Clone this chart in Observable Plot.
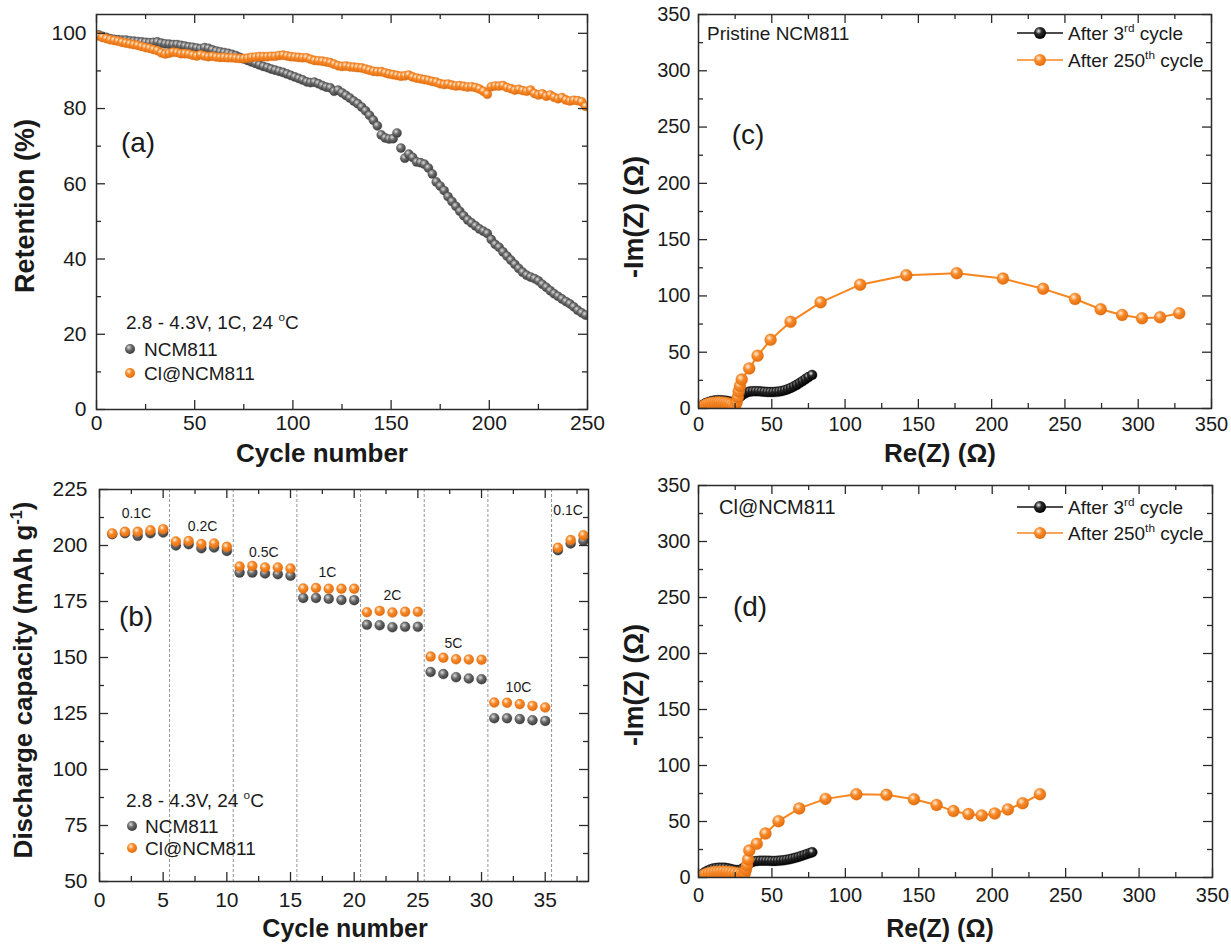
<!DOCTYPE html>
<html><head><meta charset="utf-8">
<script src="https://cdn.jsdelivr.net/npm/d3@7"></script>
<script src="https://cdn.jsdelivr.net/npm/@observablehq/plot@0.6"></script>
<style>
body{margin:0;background:#fff;}
#fig{position:relative;width:1231px;height:944px;overflow:hidden;font-family:'Liberation Sans',Arial,Helvetica,sans-serif;color:#1a1a1a;background:#fff;}
.p{position:absolute;}
.t{position:absolute;white-space:nowrap;line-height:1;transform:translateY(-50%);}
.c{position:absolute;white-space:nowrap;line-height:1;transform:translate(-50%,-50%);}
.b{font-weight:bold;}
.vt{transform:translate(-50%,-50%) rotate(-90deg);}
sup{font-size:0.62em;vertical-align:0.6em;line-height:0;}
</style></head>
<body>
<svg width="0" height="0" style="position:absolute">
<defs>
<radialGradient id="gGray" cx="0.38" cy="0.34" r="0.68">
<stop offset="0" stop-color="#dcdcdc"/><stop offset="0.45" stop-color="#6a6a6a"/><stop offset="1" stop-color="#3a3a3a"/>
</radialGradient>
<radialGradient id="gOr" cx="0.38" cy="0.34" r="0.68">
<stop offset="0" stop-color="#fff1df"/><stop offset="0.42" stop-color="#f98a28"/><stop offset="1" stop-color="#e06d10"/>
</radialGradient>
<radialGradient id="gBlk" cx="0.38" cy="0.34" r="0.68">
<stop offset="0" stop-color="#f2f2f2"/><stop offset="0.38" stop-color="#2a2a2a"/><stop offset="1" stop-color="#000"/>
</radialGradient>
</defs>
</svg>
<div id="fig"></div>
<script>
const FONT = "'Liberation Sans', Arial, Helvetica, sans-serif";
const AX = "#2b2b2b";
const ORANGE = "#f7861f";

// ---------- Panel (a): capacity retention ----------
const cyclesA = d3.range(1, 250, 2); // cycles 1,3,...,249
const retNCM = [
 99.6, 99.2, 98.9, 98.6, 98.4, 98.3, 98.2, 98.2, 98.0, 97.9,
 97.8, 97.7, 97.6, 97.5, 97.6, 97.7, 97.4, 97.2, 97.1, 97.0,
 97.0, 96.8, 96.6, 96.4, 96.3, 96.1, 95.9, 96.2, 96.0, 95.6,
 95.3, 95.1, 94.9, 94.7, 94.4, 94.1, 93.6, 93.2, 92.8, 92.4,
 92.0, 91.6, 91.2, 90.9, 90.5, 90.2, 89.9, 89.6, 89.2, 88.8,
 88.4, 88.0, 87.6, 87.1, 86.9, 87.0, 86.6, 86.1, 85.7, 85.5,
 84.6, 84.9, 84.2, 83.5, 82.8, 82.0, 81.3, 80.4, 79.4, 78.2,
 76.9, 75.4, 73.0, 72.2, 71.9, 72.0, 73.5, 69.5, 66.8, 67.9,
 67.0, 65.8, 65.6, 65.2, 64.2, 62.6, 60.5, 59.4, 58.2, 56.6,
 55.3, 54.0, 52.7, 51.5, 50.4, 49.6, 48.8, 48.0, 47.4, 46.8,
 45.2, 43.9, 43.1, 41.9, 40.8, 39.7, 38.6, 37.5, 36.5, 35.7,
 35.2, 34.8, 34.2, 33.3, 32.5, 31.6, 30.8, 30.1, 29.4, 28.7,
 28.1, 27.3, 26.4, 25.7, 25.1];
const retCl = [
 99.3, 98.9, 98.6, 98.3, 98.1, 97.9, 97.6, 97.4, 97.2, 97.0,
 96.8, 96.5, 96.2, 96.0, 95.7, 95.4, 94.8, 94.5, 94.7, 95.0,
 94.9, 94.6, 94.6, 94.5, 94.2, 94.0, 94.3, 94.0, 93.8, 93.9,
 93.7, 93.6, 93.6, 93.5, 93.5, 93.4, 93.3, 93.3, 93.4, 93.6,
 93.7, 93.8, 93.8, 93.8, 93.9, 93.9, 94.1, 94.2, 94.0, 93.8,
 93.7, 93.6, 93.5, 93.5, 93.1, 92.8, 92.7, 92.6, 92.4, 92.2,
 91.8, 91.4, 91.2, 91.3, 91.1, 91.0, 90.9, 90.8, 90.5, 90.2,
 89.9, 89.8, 89.8, 89.5, 89.2, 89.0, 88.8, 88.6, 88.7, 88.9,
 88.4, 88.1, 87.9, 87.7, 87.5, 87.2, 87.0, 86.6, 86.4, 86.5,
 86.2, 86.0, 86.1, 85.9, 85.7, 85.8, 85.6, 85.2, 84.6, 83.8,
 85.8, 86.0, 86.0, 86.1, 85.6, 85.3, 84.9, 85.1, 84.8, 84.6,
 84.9, 84.0, 83.6, 83.9, 83.3, 83.6, 83.0, 82.6, 82.9, 82.3,
 82.0, 82.2, 82.1, 81.8, 80.6];
const aXMajor = [0, 50, 100, 150, 200, 250];
const aXMinor = [25, 75, 125, 175, 225];
const aYMajor = [0, 20, 40, 60, 80, 100];
const aYMinor = [10, 30, 50, 70, 90];

// ---------- Panel (b): rate capability ----------
const cyclesB = d3.range(1, 39);
const capNCM = [205.0, 205.5, 204.3, 205.5, 205.8, 200.0, 200.6, 198.8, 199.1, 197.6,
 187.9, 187.9, 187.5, 187.2, 186.5, 176.6, 176.6, 176.2, 175.7, 175.6,
 164.6, 164.4, 163.5, 163.7, 163.7, 143.5, 142.6, 141.2, 140.6, 140.3,
 122.9, 122.9, 122.5, 122.0, 121.7, 197.9, 200.9, 202.1];
const capCl = [205.4, 206.1, 206.1, 206.8, 207.3, 201.8, 202.0, 200.7, 200.9, 199.4,
 190.6, 190.9, 190.2, 190.2, 189.7, 180.8, 181.0, 180.7, 180.7, 180.7,
 170.2, 170.8, 170.1, 170.4, 170.4, 150.4, 149.9, 149.2, 149.1, 149.0,
 129.9, 129.8, 129.2, 128.4, 127.7, 199.0, 202.4, 204.6];
const rateLabels = ["0.1C", "0.2C", "0.5C", "1C", "2C", "5C", "10C", "0.1C"];
const rateX = [2.9, 8.1, 12.9, 17.9, 23.0, 27.8, 32.9, 36.8];
const rateY = [214.5, 208.3, 197.0, 188.0, 177.5, 156.2, 136.6, 215.5];
const rateSteps = [5.5, 10.5, 15.5, 20.5, 25.5, 30.5, 35.5];
const bXMajor = [0, 5, 10, 15, 20, 25, 30, 35];
const bXMinor = [2.5, 7.5, 12.5, 17.5, 22.5, 27.5, 32.5, 37.5];
const bYMajor = [50, 75, 100, 125, 150, 175, 200, 225];
const bYMinor = [62.5, 87.5, 112.5, 137.5, 162.5, 187.5, 212.5];

// ---------- Panel (c): EIS pristine NCM811 ----------
const c3ReZ = [0.5,1.5,3,5,7,9,11,13,15,17,19,21,23,25,27,29,31,33,35,37,39,41,43,45,47,49,51,53,55,57,59,61,63,65,67,69,71,73,75,77.5];
const c3ImZ = [0,1.8,3.4,4.8,5.8,6.6,7.1,7.4,7.4,7.2,6.8,6.2,5.8,6.5,8.5,11,13,14.3,15,15.3,15.4,15.3,15.1,14.9,14.7,14.6,14.6,14.8,15.1,15.6,16.3,17.2,18.3,19.6,21,22.6,24.3,26.1,27.9,29.8];
const c250ReZ = [1,2.5,4,5.5,7,8.5,10,11.5,13,14.5,16,17.5,19,20.5,22,23.5,25,26,26.8,27.4,28.3,29.5,34.6,40.3,49.2,62.8,83.3,110.3,141.8,176.2,207.7,235.1,256.9,274.4,289.0,302.6,314.9,328.0];
const c250ImZ = [0,1.5,2.6,3.5,4.2,4.7,5.0,5.2,5.3,5.3,5.2,5.0,4.7,4.3,3.6,2.6,1.8,5.5,10,15,20,25.7,35.6,46.8,61.0,77.0,94.3,110.0,118.4,120.2,115.4,106.3,97.3,88.2,83.1,80.1,81.0,84.6];

// ---------- Panel (d): EIS Cl@NCM811 ----------
const d3ReZ = [0.5,2,4,6,8,10,12,14,16,18,20,22,24,26,28,30,32,34,36,38,40,42,44,46,48,50,52,54,56,58,60,62,64,66,68,70,72,74,76,77.5];
const d3ImZ = [0,2.5,4.5,6,7.2,8,8.5,8.8,8.8,8.6,8.2,7.6,7,6.6,6.8,8,10,12,13.5,14.4,14.8,15,15,15,14.9,14.8,14.8,14.9,15.1,15.4,15.8,16.3,16.9,17.6,18.4,19.2,20.1,21,21.9,22.6];
const d250ReZ = [1,3,5,7,9,11,13,15,17,19,21,23,25,27,29,30.5,31.5,32.3,33,33.8,34.6,39.7,45.6,54.5,68.6,86.5,107.5,128,146.7,162.1,173.6,183.8,192.8,201.7,210.7,220.7,232.5];
const d250ImZ = [0,1.8,3,3.8,4.4,4.8,5,5.1,5.1,5,4.8,4.5,4.1,3.6,3,2.6,3.5,7,11,16,24.1,30.1,39.2,50.3,61.7,70.2,74.4,73.8,69.9,64.8,59.3,56.6,55.4,57.2,60.8,66.3,74.4];
const eisMajor = [0, 50, 100, 150, 200, 250, 300, 350];
const eisMinor = [25, 75, 125, 175, 225, 275, 325];

// ---------- tables ----------
const tabA = cyclesA.map((c, i) => ({cycle: c, ncm: retNCM[i], cl: retCl[i]}));
const tabB = cyclesB.map((c, i) => ({cycle: c, ncm: capNCM[i], cl: capCl[i]}));
const tabRates = rateLabels.map((l, i) => ({label: l, x: rateX[i], y: rateY[i]}));
const toXY = (xs, ys) => xs.map((x, i) => ({x, y: ys[i]}));
const tabC3 = toXY(c3ReZ, c3ImZ), tabC250 = toXY(c250ReZ, c250ImZ);
const tabD3 = toXY(d3ReZ, d3ImZ), tabD250 = toXY(d250ReZ, d250ImZ);

function panel(o) {
  const iw = o.w - o.ml - o.mr, ih = o.h - o.mt - o.mb;
  const st = {stroke: AX, strokeWidth: 1.3};
  return Plot.plot({
    width: o.w, height: o.h,
    marginTop: o.mt, marginRight: o.mr, marginBottom: o.mb, marginLeft: o.ml,
    style: {fontFamily: FONT, fontSize: o.fs + "px", color: "#1a1a1a", background: "transparent", overflow: "visible"},
    x: {domain: o.xd, axis: null},
    y: {domain: o.yd, axis: null},
    marks: [
      ...o.marks,
      Plot.tickX(o.xMaj, {x: d => d, insetTop: ih - 9, ...st}),
      Plot.tickX(o.xMaj, {x: d => d, insetBottom: ih - 9, ...st}),
      Plot.tickX(o.xMin, {x: d => d, insetTop: ih - 5, ...st}),
      Plot.tickX(o.xMin, {x: d => d, insetBottom: ih - 5, ...st}),
      Plot.tickY(o.yMaj, {y: d => d, insetRight: iw - 9, ...st}),
      Plot.tickY(o.yMaj, {y: d => d, insetLeft: iw - 9, ...st}),
      Plot.tickY(o.yMin, {y: d => d, insetRight: iw - 5, ...st}),
      Plot.tickY(o.yMin, {y: d => d, insetLeft: iw - 5, ...st}),
      Plot.frame({stroke: AX, strokeWidth: 1.5}),
      Plot.axisX({ticks: o.xMaj, tickSize: 0, tickPadding: o.xPad, label: null, tickFormat: d => String(d)}),
      Plot.axisY({ticks: o.yMaj, tickSize: 0, tickPadding: o.yPad, label: null, tickFormat: d => String(d)})
    ]
  });
}

const grayDot = {r: 4.6, fill: "url(#gGray)", stroke: "#3d3d3d", strokeWidth: 0.3, clip: true};
const orDot = {r: 4.6, fill: "url(#gOr)", stroke: "#d86a12", strokeWidth: 0.3, clip: true};

const chartA = panel({
  w: 600, h: 470, mt: 14, mr: 13, mb: 61, ml: 96, xd: [0, 250], yd: [0, 105], fs: 21,
  xMaj: aXMajor, xMin: aXMinor, yMaj: aYMajor, yMin: aYMinor, xPad: 6, yPad: 10,
  marks: [
    Plot.dot(tabA, {x: "cycle", y: "ncm", ...grayDot}),
    Plot.dot(tabA, {x: "cycle", y: "cl", ...orDot})
  ]
});
const chartB = panel({
  w: 600, h: 474, mt: 19, mr: 12, mb: 63, ml: 99, xd: [0, 38.4], yd: [50, 225], fs: 21,
  xMaj: bXMajor, xMin: bXMinor, yMaj: bYMajor, yMin: bYMinor, xPad: 11, yPad: 12,
  marks: [
    Plot.ruleX(rateSteps, {x: d => d, stroke: "#888", strokeWidth: 0.9, strokeDasharray: "3,2"}),
    Plot.dot(tabB, {x: "cycle", y: "ncm", ...grayDot, r: 5}),
    Plot.dot(tabB, {x: "cycle", y: "cl", ...orDot, r: 5}),
    Plot.text(tabRates, {x: "x", y: "y", text: "label", fontSize: 14, fill: "#1a1a1a"})
  ]
});
function eisMarks(t3, t250) {
  return [
    Plot.line(t3, {x: "x", y: "y", stroke: "#111", strokeWidth: 1.3, clip: true}),
    Plot.dot(t3, {x: "x", y: "y", r: 5, fill: "url(#gBlk)", stroke: "#000", strokeWidth: 0.3, clip: true}),
    Plot.line(t250, {x: "x", y: "y", stroke: ORANGE, strokeWidth: 2, clip: true}),
    Plot.dot(t250, {x: "x", y: "y", r: 6, fill: "url(#gOr)", stroke: "#e0700f", strokeWidth: 0.3, clip: true})
  ];
}
const chartC = panel({
  w: 611, h: 470, mt: 14, mr: 20, mb: 62, ml: 78, xd: [0, 350], yd: [0, 350], fs: 20,
  xMaj: eisMajor, xMin: eisMinor, yMaj: eisMajor, yMin: eisMinor, xPad: 8, yPad: 8,
  marks: eisMarks(tabC3, tabC250)
});
const chartD = panel({
  w: 611, h: 474, mt: 15, mr: 19, mb: 67, ml: 78, xd: [0, 350], yd: [0, 350], fs: 20,
  xMaj: eisMajor, xMin: eisMinor, yMaj: eisMajor, yMin: eisMinor, xPad: 10, yPad: 8,
  marks: eisMarks(tabD3, tabD250)
});

const fig = document.getElementById("fig");
function place(el, left, top) {
  const d = document.createElement("div");
  d.className = "p"; d.style.left = left + "px"; d.style.top = top + "px";
  d.appendChild(el); fig.appendChild(d);
}
place(chartA, 0, 0);
place(chartB, 0, 470);
place(chartC, 620, 0);
place(chartD, 620, 470);

function txt(html, left, cy, size, cls = "t") {
  const d = document.createElement("div");
  d.className = cls; d.innerHTML = html;
  d.style.left = left + "px"; d.style.top = cy + "px"; d.style.fontSize = size + "px";
  fig.appendChild(d);
}
const NS = "http://www.w3.org/2000/svg";
function bead(cx, cy, r, grad, lineColor) {
  const w = lineColor ? 46 : 2 * r + 2, h = 2 * r + 2;
  const s = document.createElementNS(NS, "svg");
  s.setAttribute("width", w); s.setAttribute("height", h);
  s.style.position = "absolute"; s.style.left = (cx - w / 2) + "px"; s.style.top = (cy - h / 2) + "px";
  if (lineColor) {
    const l = document.createElementNS(NS, "line");
    l.setAttribute("x1", 0); l.setAttribute("x2", w); l.setAttribute("y1", h / 2); l.setAttribute("y2", h / 2);
    l.setAttribute("stroke", lineColor); l.setAttribute("stroke-width", 1.6);
    s.appendChild(l);
  }
  const c = document.createElementNS(NS, "circle");
  c.setAttribute("cx", w / 2); c.setAttribute("cy", h / 2); c.setAttribute("r", r);
  c.setAttribute("fill", `url(#${grad})`);
  s.appendChild(c); fig.appendChild(s);
}

// axis titles
txt("Retention (%)", 25, 206, 27, "c b vt");
txt("Cycle number", 322, 453, 26, "c b");
txt("Discharge capacity (mAh g<sup>-1</sup>)", 23, 680, 26, "c b vt");
txt("Cycle number", 345, 928, 25, "c b");
txt("-Im(Z) (Ω)", 634, 217, 27, "c b vt");
txt("Re(Z) (Ω)", 940, 453, 26, "c b");
txt("-Im(Z) (Ω)", 634, 685, 27, "c b vt");
txt("Re(Z) (Ω)", 940, 928, 25, "c b");

// panel letters
txt("(a)", 138, 143, 28, "c");
txt("(b)", 136, 617, 28, "c");
txt("(c)", 748, 135, 28, "c");
txt("(d)", 750, 607, 28, "c");

// legends (a)
txt("2.8 - 4.3V, 1C, 24 <sup>o</sup>C", 126, 322, 19);
bead(130, 349, 5, "gGray"); txt("NCM811", 144, 349, 19);
bead(130, 373, 5, "gOr"); txt("Cl@NCM811", 144, 373, 19);
// legends (b)
txt("2.8 - 4.3V, 24 <sup>o</sup>C", 126, 800, 19);
bead(132, 826, 5, "gGray"); txt("NCM811", 145, 826, 19);
bead(132, 848, 5, "gOr"); txt("Cl@NCM811", 145, 848, 19);
// legends (c)
txt("Pristine NCM811", 707, 33, 19);
bead(1040, 33, 6, "gBlk", "#111"); txt("After 3<sup>rd</sup> cycle", 1068, 33, 19);
bead(1040, 60, 6, "gOr", ORANGE); txt("After 250<sup>th</sup> cycle", 1068, 60, 19);
// legends (d)
txt("Cl@NCM811", 719, 507, 20);
bead(1040, 507, 6, "gBlk", "#111"); txt("After 3<sup>rd</sup> cycle", 1068, 507, 19);
bead(1040, 533, 6, "gOr", ORANGE); txt("After 250<sup>th</sup> cycle", 1068, 533, 19);
</script>
</body></html>
